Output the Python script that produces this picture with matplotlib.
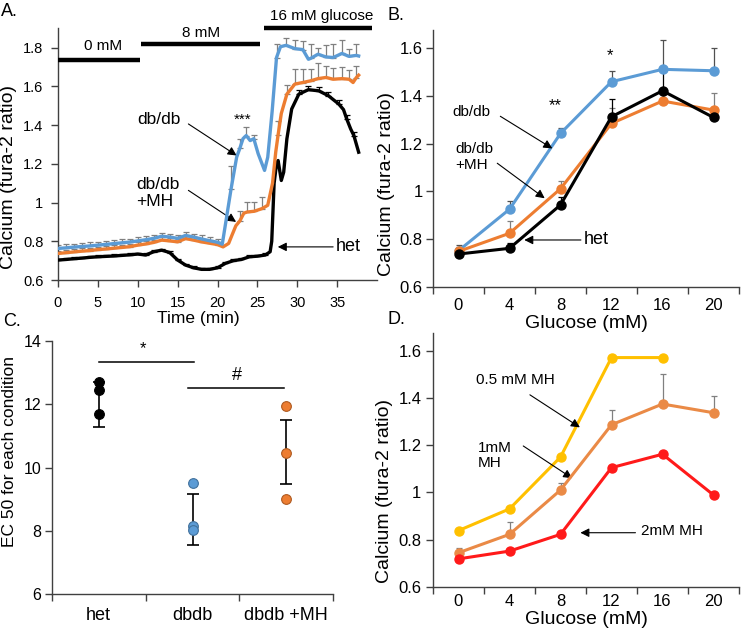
import numpy as np
import matplotlib
matplotlib.use("Agg")
import matplotlib.pyplot as plt

plt.rcParams['font.family'] = ['Liberation Sans', 'DejaVu Sans']

# ---------------- Panel A data (time course) ----------------
tA_blue = [0, 1, 2, 3, 4, 5, 6, 7, 8, 9, 10, 11, 12, 13, 14, 15, 16, 17, 18, 19, 20,
           20.6, 21.7, 22.4, 22.8, 23.2, 23.6, 24.1, 24.55, 25.1, 25.5, 25.9, 26.3, 26.85,
           27.4, 27.9, 28.6, 29.7, 30.7, 31.4, 31.7, 32.6, 33.6, 34.5, 35.6, 36.5, 37.4, 37.7]
vA_blue = [0.763, 0.766, 0.770, 0.773, 0.776, 0.780, 0.784, 0.788, 0.792, 0.796, 0.802,
           0.808, 0.815, 0.826, 0.822, 0.815, 0.830, 0.822, 0.812, 0.803, 0.795,
           0.785, 1.07, 1.234, 1.28, 1.33, 1.346, 1.32, 1.33, 1.252, 1.209, 1.166, 1.234, 1.47,
           1.749, 1.805, 1.812, 1.795, 1.79, 1.74, 1.745, 1.766, 1.752, 1.749, 1.77, 1.755, 1.76, 1.757]
eA_blue = [0.018] * 21 + [0, 0.12, 0, 0.05, 0, 0.046, 0, 0.02, 0, 0, 0, 0, 0,
                          0.07, 0, 0.04, 0.045, 0.045, 0, 0.075, 0.03, 0.06, 0.07, 0.07, 0.04, 0.06, 0]

tA_or = [0, 1, 2, 3, 4, 5, 6, 7, 8, 9, 10, 11, 12, 13, 14, 15, 16, 17, 18, 19, 20,
         20.7, 21.4, 21.8, 22.3, 22.8, 23.3, 23.7, 24.6, 25.6, 26.3, 26.9, 27.3, 27.6, 28.0,
         28.7, 29.7, 30.7, 31.7, 32.6, 33.6, 34.5, 35.6, 36.5, 37.0, 37.4, 37.7]
vA_or = [0.737, 0.741, 0.745, 0.749, 0.752, 0.757, 0.760, 0.764, 0.768, 0.772, 0.780,
         0.786, 0.794, 0.806, 0.802, 0.797, 0.814, 0.806, 0.797, 0.790, 0.783,
         0.771, 0.789, 0.83, 0.88, 0.905, 0.945, 0.951, 0.955, 0.969, 0.986, 1.10, 1.26, 1.35, 1.46,
         1.56, 1.612, 1.62, 1.629, 1.64, 1.646, 1.637, 1.64, 1.637, 1.62, 1.645, 1.658]
eA_or = [0.015] * 21 + [0, 0, 0, 0, 0.05, 0, 0.05, 0.05, 0.06, 0, 0, 0, 0.07, 0,
                        0.045, 0.077, 0.07, 0.06, 0.08, 0.06, 0.06, 0.06, 0.05, 0, 0.06, 0]

tA_bk = [0, 1, 2, 3, 4, 5, 6, 7, 8, 9, 10, 11, 12, 13, 14, 15, 16, 17, 18, 19, 20,
         21, 22, 23, 24, 25, 26, 26.6, 26.8, 27.1, 27.4, 27.6, 28.0, 28.3, 28.7, 29.3,
         30.2, 31.4, 32.7, 33.9, 35.2, 35.8, 36.2, 36.7, 37.1, 37.7]
vA_bk = [0.703, 0.706, 0.710, 0.713, 0.717, 0.720, 0.722, 0.724, 0.727, 0.730, 0.734,
         0.729, 0.746, 0.754, 0.742, 0.703, 0.677, 0.663, 0.655, 0.655, 0.663,
         0.686, 0.700, 0.706, 0.720, 0.723, 0.729, 0.746, 0.80, 1.10, 1.20, 1.217, 1.114, 1.157,
         1.329, 1.483, 1.56, 1.583, 1.577, 1.552, 1.509, 1.48, 1.432, 1.38, 1.346, 1.26]
eA_bk = [0.008] * 27 + [0, 0, 0, 0, 0, 0, 0, 0, 0, 0.02, 0.02, 0.02, 0.02, 0.02, 0, 0.02, 0, 0.02, 0]

bars_A = [("0 mM", 0.0, 10.3, 1.735), ("8 mM", 10.4, 25.3, 1.82), ("16 mM glucose", 25.8, 39.4, 1.9)]

# ---------------- Panel B data ----------------
glucose = ["0", "4", "8", "12", "16", "20"]
B_dbdb = [0.751, 0.925, 1.243, 1.460, 1.512, 1.506]
B_dbdb_err = [0.024, 0.036, 0.024, 0.045, 0.123, 0.094]
B_mh = [0.748, 0.824, 1.011, 1.285, 1.379, 1.341]
B_mh_err = [0.02, 0.052, 0.032, 0.065, 0.05, 0.073]
B_het = [0.737, 0.761, 0.943, 1.313, 1.422, 1.31]
B_het_err = [0.0, 0.024, 0.035, 0.074, 0.10, 0.0]

# ---------------- Panel C data ----------------
C_groups = ["het", "dbdb", "dbdb +MH"]
C_points = [[12.69, 12.44, 11.69], [9.51, 8.14, 8.02], [11.95, 10.45, 9.01]]
C_center = [12.27, 8.355, 10.49]
C_err_lo = [0.99, 0.805, 1.02]
C_err_hi = [0.43, 0.805, 1.02]

# ---------------- Panel D data ----------------
D_05 = [0.838, 0.93, 1.15, 1.572, 1.572, np.nan]
D_1 = [0.744, 0.822, 1.01, 1.287, 1.375, 1.338]
D_1_err = [0.021, 0.052, 0.032, 0.063, 0.127, 0.072]
D_2 = [0.718, 0.751, 0.822, 1.105, 1.162, 0.989]

BLUE = '#5B9BD5'
ORANGE = '#ED7D31'
ORANGE_D = '#EA8A46'
YELLOW = '#FFC000'
RED = '#FF1A1A'
GRAY = '#808080'
AXC = '#404040'

W, H = 741, 635
fig = plt.figure(figsize=(W / 100, H / 100), dpi=100)


def box(l, r, t, b):
    return [l / W, (H - b) / H, (r - l) / W, (b - t) / H]


def style(ax):
    for s in ['top', 'right']:
        ax.spines[s].set_visible(False)
    for s in ['left', 'bottom']:
        ax.spines[s].set_color(AXC)
        ax.spines[s].set_linewidth(1.0)
    ax.tick_params(colors=AXC, labelcolor='black', width=1.0)


def upper_err(ax, x, y, e, color, lw=0.9, cap=2.5, z=2):
    x = np.asarray(x, float); y = np.asarray(y, float); e = np.asarray(e, float)
    m = e > 0
    ax.errorbar(x[m], y[m], yerr=[np.zeros(m.sum()), e[m]], fmt='none', ecolor=color,
                elinewidth=lw, capsize=cap, capthick=lw, zorder=z)


arrow = dict(arrowstyle='-|>', color='black', lw=0.8, mutation_scale=13, shrinkA=0, shrinkB=0)

# ================= Panel A =================
axA = fig.add_axes(box(58, 377, 28.3, 280))
style(axA)
upper_err(axA, tA_blue, vA_blue, eA_blue, GRAY, z=2)
upper_err(axA, tA_or, vA_or, eA_or, GRAY, z=2)
upper_err(axA, tA_bk, vA_bk, eA_bk, 'black', lw=0.9, cap=2, z=2)
axA.plot(tA_bk, vA_bk, color='black', lw=2.4, zorder=3)
axA.plot(tA_or, vA_or, color=ORANGE, lw=2.4, zorder=4)
axA.plot(tA_blue, vA_blue, color=BLUE, lw=2.4, zorder=5)
axA.set_xlim(0, 40)
axA.set_ylim(0.6, 1.9)
axA.set_xticks(np.arange(0, 36, 5))
yt = [0.6, 0.8, 1.0, 1.2, 1.4, 1.6, 1.8]
axA.set_yticks(yt)
axA.set_yticklabels(['0.6', '0.8', '1', '1.2', '1.4', '1.6', '1.8'])
axA.tick_params(axis='x', length=5, pad=6.5, labelsize=10.5)
axA.tick_params(axis='y', length=5, pad=5.5, labelsize=10.5)
axA.set_xlabel("Time (min)", fontsize=12.5)
axA.xaxis.set_label_coords(0.44, -0.125)
axA.set_ylabel("Calcium (fura-2 ratio)", fontsize=14)
axA.yaxis.set_label_coords(-0.128, 0.41)
for lab, x0, x1, y in bars_A:
    axA.plot([x0, x1], [y, y], color='black', lw=3.2, solid_capstyle='butt', clip_on=False, zorder=6)
axA.text(5.7, 1.809, "0 mM", ha='center', va='center', fontsize=11)
axA.text(18.0, 1.877, "8 mM", ha='center', va='center', fontsize=11)
axA.text(33.1, 1.963, "16 mM glucose", ha='center', va='center', fontsize=11, clip_on=False)
axA.text(23.2, 1.425, "***", ha='center', va='center', fontsize=11)
axA.text(12.6, 1.43, "db/db", ha='center', va='center', fontsize=12.5)
axA.annotate("", xy=(22.4, 1.243), xytext=(16.35, 1.406), arrowprops=arrow)
axA.text(9.85, 1.05, "db/db\n+MH", ha='left', va='center', fontsize=12.5, linespacing=1.15)
axA.annotate("", xy=(22.33, 0.90), xytext=(16.35, 1.063), arrowprops=arrow)
axA.text(34.8, 0.771, "het", ha='left', va='center', fontsize=13)
axA.annotate("", xy=(27.56, 0.771), xytext=(34.5, 0.771), arrowprops=arrow)

# ================= Panel B =================
axB = fig.add_axes(box(433, 739, 30, 286.7))
style(axB)
xi = np.arange(len(glucose))
upper_err(axB, xi, B_dbdb, B_dbdb_err, '#505050', z=2)
upper_err(axB, xi, B_mh, B_mh_err, GRAY, z=2)
upper_err(axB, xi, B_het, B_het_err, 'black', z=2)
axB.plot(xi, B_dbdb, '-o', color=BLUE, lw=2.2, ms=6.5, zorder=3)
axB.plot(xi, B_mh, '-o', color=ORANGE, lw=2.2, ms=6.5, zorder=4)
axB.plot(xi, B_het, '-o', color='black', lw=2.2, ms=6.5, zorder=5)
axB.set_xlim(-0.5, len(glucose) - 0.5)
axB.set_ylim(0.6, 1.677)
axB.set_xticks(xi)
axB.set_xticklabels(glucose)
axB.set_xticks(np.arange(-0.5, len(glucose)), minor=True)
axB.tick_params(axis='x', which='major', length=0, pad=8, labelsize=12)
axB.tick_params(axis='x', which='minor', length=5, width=1.0, colors=AXC)
axB.set_yticks([0.6, 0.8, 1.0, 1.2, 1.4, 1.6])
axB.set_yticklabels(['0.6', '0.8', '1', '1.2', '1.4', '1.6'])
axB.tick_params(axis='y', length=5, pad=2.5, labelsize=12)
axB.set_xlabel("Glucose (mM)", fontsize=14)
axB.xaxis.set_label_coords(0.5, -0.112)
axB.set_ylabel("Calcium (fura-2 ratio)", fontsize=14)
axB.yaxis.set_label_coords(-0.124, 0.40)
axB.text(1.9, 1.36, "**", ha='center', va='center', fontsize=12)
axB.text(2.98, 1.57, "*", ha='center', va='center', fontsize=12)
axB.text(-0.12, 1.334, "db/db", ha='left', va='center', fontsize=11)
axB.annotate("", xy=(1.84, 1.18), xytext=(0.82, 1.315), arrowprops=arrow)
axB.text(-0.06, 1.145, "db/db\n+MH", ha='left', va='center', fontsize=11, linespacing=1.15)
axB.annotate("", xy=(1.69, 0.971), xytext=(0.76, 1.118), arrowprops=arrow)
axB.text(2.46, 0.796, "het", ha='left', va='center', fontsize=13)
axB.annotate("", xy=(1.29, 0.796), xytext=(2.40, 0.796), arrowprops=arrow)

# ================= Panel C =================
axC = fig.add_axes(box(51.7, 333.3, 341, 594))
style(axC)
ci = np.arange(len(C_groups))
axC.errorbar(ci, C_center, yerr=[C_err_lo, C_err_hi], fmt='none', ecolor='black',
             elinewidth=1.2, capsize=4, capthick=1.2, zorder=2)
C_face = ['black', BLUE, ORANGE]
C_edge = ['black', '#41719C', '#AE5A21']
for i, pts in enumerate(C_points):
    axC.plot([ci[i]] * len(pts), pts, 'o', ms=7, mfc=C_face[i], mec=C_edge[i], mew=0.8, zorder=3)
axC.set_xlim(-0.5, len(C_groups) - 0.5)
axC.set_ylim(6, 14)
axC.set_xticks(ci)
axC.set_xticklabels(C_groups)
axC.set_xticks(np.arange(-0.5, len(C_groups)), minor=True)
axC.tick_params(axis='x', which='major', length=0, pad=9, labelsize=13)
axC.tick_params(axis='x', which='minor', length=5, width=1.0, colors=AXC)
axC.set_yticks([6, 8, 10, 12, 14])
axC.tick_params(axis='y', length=5, pad=2.5, labelsize=11.5)
axC.set_ylabel("EC 50 for each condition", fontsize=12.5)
axC.yaxis.set_label_coords(-0.123, 0.5625)
axC.plot([0.0, 1.02], [13.34, 13.34], color='black', lw=1.1)
axC.text(0.47, 13.75, "*", ha='center', va='center', fontsize=12)
axC.plot([0.95, 1.97], [12.5, 12.5], color='black', lw=1.1)
axC.text(1.47, 12.9, "#", ha='center', va='center', fontsize=13)

# ================= Panel D =================
axD = fig.add_axes(box(433, 739, 333.3, 586.7))
style(axD)
upper_err(axD, xi, D_1, D_1_err, GRAY, z=2)
axD.plot(xi, D_05, '-o', color=YELLOW, lw=2.2, ms=6.5, zorder=3)
axD.plot(xi, D_1, '-o', color=ORANGE_D, lw=2.2, ms=6.5, zorder=4)
axD.plot(xi, D_2, '-o', color=RED, lw=2.2, ms=6.5, zorder=5)
axD.set_xlim(-0.5, len(glucose) - 0.5)
axD.set_ylim(0.6, 1.675)
axD.set_xticks(xi)
axD.set_xticklabels(glucose)
axD.set_xticks(np.arange(-0.5, len(glucose)), minor=True)
axD.tick_params(axis='x', which='major', length=0, pad=5, labelsize=12)
axD.tick_params(axis='x', which='minor', length=5, width=1.0, colors=AXC)
axD.set_yticks([0.6, 0.8, 1.0, 1.2, 1.4, 1.6])
axD.set_yticklabels(['0.6', '0.8', '1', '1.2', '1.4', '1.6'])
axD.tick_params(axis='y', length=5, pad=3.3, labelsize=12)
axD.set_xlabel("Glucose (mM)", fontsize=14)
axD.xaxis.set_label_coords(0.5, -0.095)
axD.set_ylabel("Calcium (fura-2 ratio)", fontsize=14)
axD.yaxis.set_label_coords(-0.131, 0.378)
axD.text(0.35, 1.477, "0.5 mM MH", ha='left', va='center', fontsize=11)
axD.annotate("", xy=(2.38, 1.276), xytext=(1.40, 1.414), arrowprops=arrow)
axD.text(0.38, 1.156, "1mM\nMH", ha='left', va='center', fontsize=11, linespacing=1.15)
axD.annotate("", xy=(2.23, 1.06), xytext=(1.27, 1.197), arrowprops=arrow)
axD.text(3.57, 0.838, "2mM MH", ha='left', va='center', fontsize=11)
axD.annotate("", xy=(2.39, 0.829), xytext=(3.47, 0.829), arrowprops=arrow)

# ================= Panel labels =================
fig.text(1 / W, 1 - 12 / H, "A.", fontsize=13, ha='left', va='center')
fig.text(388 / W, 1 - 15 / H, "B.", fontsize=13, ha='left', va='center')
fig.text(3 / W, 1 - 321 / H, "C.", fontsize=13, ha='left', va='center')
fig.text(388 / W, 1 - 320 / H, "D.", fontsize=13, ha='left', va='center')

fig.savefig("out.png", dpi=100)
